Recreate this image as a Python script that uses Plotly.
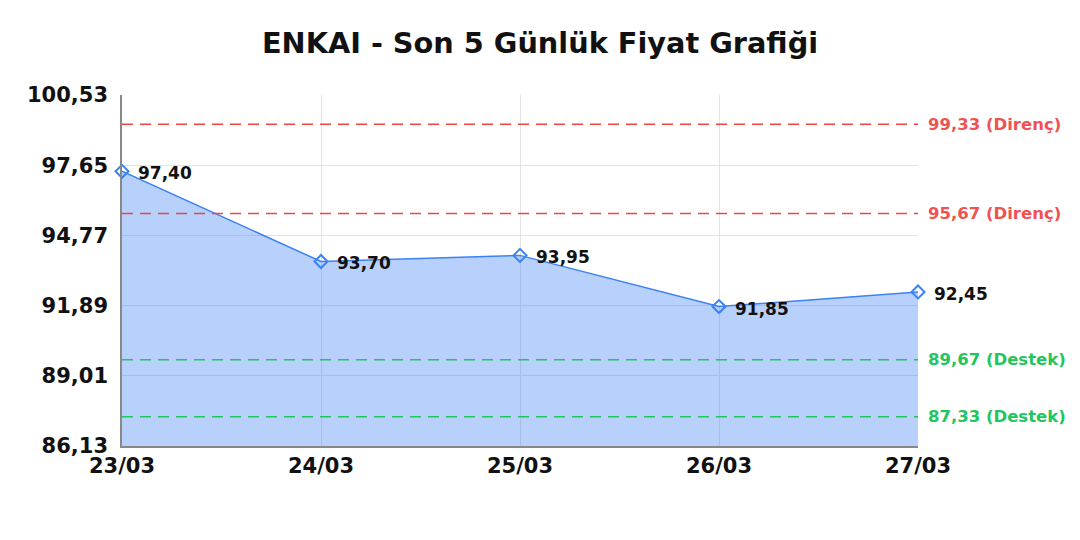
import plotly.graph_objects as go

dates = ["23/03", "24/03", "25/03", "26/03", "27/03"]
prices = [97.40, 93.70, 93.95, 91.85, 92.45]
resistance_levels = [99.33, 95.67]
support_levels = [89.67, 87.33]
y_ticks = [86.13, 89.01, 91.89, 94.77, 97.65, 100.53]

font_name = "DejaVu Sans"
line_blue = "#3b82f6"
red = "#ef4444"
green = "#22c55e"


def fmt(value: float) -> str:
    return "{0:.2f}".format(value).replace(".", ",")


fig = go.Figure()

fig.add_trace(go.Scatter(x=dates,
                         y=prices,
                         mode="lines+markers",
                         fill="tozeroy",
                         fillcolor="rgba(59,130,246,0.37)",
                         line=dict(color=line_blue, width=1.5),
                         marker=dict(symbol="diamond-open", size=10, color=line_blue,
                                     line=dict(width=2, color=line_blue)),
                         cliponaxis=False,
                         hoverinfo="skip",
                         showlegend=False))

# Nokta etiketleri
for date, price in zip(dates, prices):
    fig.add_annotation(x=date, y=price, xanchor="left", yanchor="middle",
                       xshift=14, yshift=-2, showarrow=False, text="<b>" + fmt(price) + "</b>",
                       font=dict(family=font_name, size=17, color="#111111"))

# Direnç / destek seviyeleri
for level in resistance_levels:
    fig.add_hline(y=level, line=dict(color=red, width=1.5, dash="11px,7px"))
    fig.add_annotation(x=1, xref="paper", y=level, yref="y", xanchor="left",
                       xshift=8, showarrow=False, text="<b>" + fmt(level) + " (Direnç)</b>",
                       font=dict(family=font_name, size=16.5, color="#f05252"))

for level in support_levels:
    fig.add_hline(y=level, line=dict(color=green, width=1.5, dash="11px,7px"))
    fig.add_annotation(x=1, xref="paper", y=level, yref="y", xanchor="left",
                       xshift=8, showarrow=False, text="<b>" + fmt(level) + " (Destek)</b>",
                       font=dict(family=font_name, size=16.5, color=green))

fig.update_layout(width=1072, height=500,
                  title=dict(text="<b>ENKAI - Son 5 Günlük Fiyat Grafiği</b>", x=0.4963, xanchor="center",
                             y=1 - 35.1 / 500, yanchor="middle",
                             font=dict(family=font_name, size=28.75, color="#111111")),
                  margin=dict(l=114, r=162, t=87, b=62),
                  plot_bgcolor="white", paper_bgcolor="white",
                  font=dict(family=font_name))

fig.update_xaxes(type="category", range=[0, len(dates) - 1],
                 showgrid=True, gridcolor="#e3e3e3", gridwidth=1,
                 showline=True, linecolor="#888888", linewidth=1.5,
                 ticks="", tickfont=dict(family=font_name, size=21, color="#111111", weight="bold"))
fig.update_yaxes(range=[y_ticks[0], y_ticks[-1]],
                 tickvals=y_ticks, ticktext=[fmt(v) for v in y_ticks],
                 showgrid=True, gridcolor="#e3e3e3", gridwidth=1,
                 showline=True, linecolor="#888888", linewidth=1.5, zeroline=False,
                 ticks="", ticklabelstandoff=8,
                 tickfont=dict(family=font_name, size=21, color="#111111", weight="bold"))

fig.write_html("out.html")
